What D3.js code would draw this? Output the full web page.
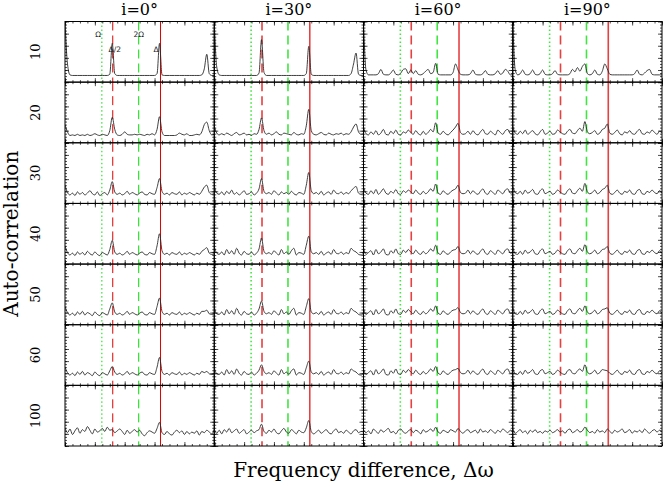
<!DOCTYPE html>
<html>
<head>
<meta charset="utf-8">
<script src="https://cdn.jsdelivr.net/npm/d3@7"></script>
<style>
  body { margin: 0; background: #fff; }
  svg { display: block; }
  .tick line { stroke: #000; stroke-width: 0.7; }
</style>
</head>
<body>
<div id="chart"></div>
<script>
// # DATA
// # ------------------------------
// # ------------------------------
var inclinations = [0, 30, 60, 90];
var row_labels   = ["10", "20", "30", "40", "50", "60", "100"];
var freq_omega   = 0.247;   // Ω
var freq_delta   = 0.64;    // Δ
var n_lags       = 61;      // samples across each panel (lag 0 .. 1)

// ## auto-correlation traces, one array per inclination (0,30,60,90)
var acf_10 = [
  [100,30,12,11,11,11,11,11,11,11, 11,11,11,11,11,11,11,11,13,64, 14,11,11,11,11,11,11,11,11,11, 11,11,11,11,11,11,11,14,64,12, 11,11,11,11,11,11,11,11,11,11, 11,11,11,11,11,12,22,46,14,11, 11],
  [100,25,12,11,11,11,11,11,11,11, 11,11,11,11,11,11,11,11,15,70, 16,11,11,11,11,11,11,11,11,11, 11,11,11,11,11,11,11,14,59,13, 11,11,11,11,11,11,11,11,11,11, 11,11,11,11,11,14,30,48,13,11, 11],
  [100,20,12,12,12,12,14,21,13,12, 12,15,20,13,12,15,21,22,14,20, 14,19,13,12,14,18,21,14,16,31, 13,12,12,12,12,12,16,30,20,13, 12,12,12,14,20,13,12,12,14,19, 13,12,12,14,19,13,15,21,18,12, 12],
  [100,20,12,14,20,13,12,14,20,13, 12,14,20,13,12,12,14,19,13,12, 12,12,12,14,21,17,24,18,26,30, 14,12,14,20,13,12,18,30,22,13, 12,12,12,12,12,12,12,12,12,14, 20,13,12,15,19,21,13,12,12,12, 12]
];
var acf_20 = [
  [30,18,12,13,12,14,12,13,12,14, 12,13,15,13,12,14,13,12,20,42, 22,13,12,14,18,14,13,13,14,13, 14,13,12,14,13,15,13,22,43,18, 12,12,12,12,12,13,16,14,13,15, 12,12,13,14,13,18,30,34,20,13, 14],
  [28,16,13,15,13,16,14,12,15,17, 13,14,16,13,14,12,15,14,22,41, 20,14,16,13,15,18,14,13,16,15, 14,13,17,14,13,15,14,28,55,20, 14,13,15,17,14,13,16,14,13,15, 14,16,13,15,14,18,26,31,18,14, 15],
  [26,15,13,18,14,20,13,16,22,14, 13,19,15,21,14,13,18,16,21,17, 14,20,15,13,19,14,17,22,18,33, 16,14,19,15,13,17,21,26,32,17, 14,15,19,14,20,15,13,18,22,15, 14,19,16,13,21,17,14,20,22,15, 16],
  [27,16,14,19,15,21,14,17,20,15, 13,18,22,14,16,19,14,15,21,18, 15,14,19,22,16,15,20,24,19,35, 18,15,17,20,14,16,22,24,31,16, 14,17,21,15,13,18,16,20,15,14, 19,22,15,14,18,16,21,17,14,19, 16]
];
var acf_30 = [
  [30,18,14,17,13,19,15,18,14,17, 21,16,14,19,13,16,18,14,22,36, 19,15,17,14,16,20,15,18,16,14, 17,19,15,14,18,16,15,26,41,20, 15,17,14,18,16,15,19,14,17,15, 18,16,14,17,15,20,27,30,18,15, 16],
  [29,17,15,19,14,20,16,22,15,18, 14,17,21,15,16,19,14,17,24,41, 20,16,18,15,21,17,14,19,16,18, 15,20,16,14,18,17,15,30,51,21, 16,18,15,20,14,17,19,15,22,17, 16,19,15,18,16,21,25,28,17,15, 17],
  [27,17,15,21,16,23,15,19,24,17, 15,20,17,23,16,15,21,18,22,19, 16,22,17,15,20,16,19,24,20,32, 17,15,21,17,15,19,22,24,30,18, 16,17,22,16,21,17,15,20,24,17, 15,21,18,15,22,19,16,22,24,17, 18],
  [28,18,16,20,15,22,17,19,23,16, 15,21,24,16,18,20,15,17,22,19, 16,15,21,24,17,16,21,25,20,33, 19,16,18,22,16,18,23,25,30,17, 15,18,22,17,15,20,18,22,16,15, 21,23,16,15,20,18,22,18,16,21, 17]
];
var acf_40 = [
  [30,19,15,18,14,20,16,19,15,21, 17,15,20,16,14,19,17,15,24,39, 20,16,18,15,17,21,16,19,17,15, 18,20,16,15,19,17,16,30,50,22, 16,18,15,19,17,16,20,15,18,16, 19,17,15,18,16,21,24,27,18,16, 17],
  [29,18,16,20,15,24,17,22,16,26, 18,15,21,17,16,20,15,18,25,43, 21,17,19,16,22,18,15,24,17,20, 16,22,26,15,19,18,16,31,46,20, 17,19,16,21,15,18,20,16,24,18, 17,20,16,19,17,26,22,20,16,15, 18],
  [27,16,19,22,15,24,17,20,25,16, 15,22,18,25,17,16,23,19,24,20, 17,23,18,16,21,17,20,25,21,31, 18,16,22,18,16,20,23,24,29,19, 17,18,23,17,22,18,16,21,25,18, 16,22,19,16,23,20,17,23,25,18, 19],
  [28,17,16,21,16,23,18,20,24,17, 16,22,25,17,19,21,16,18,23,20, 17,16,22,25,18,17,22,26,21,32, 20,17,19,23,17,19,24,25,29,18, 16,19,23,18,16,21,19,23,17,16, 22,24,17,16,21,19,23,19,17,22, 18]
];
var acf_50 = [
  [30,20,16,19,15,21,17,22,16,20, 18,15,21,17,15,20,18,16,26,36, 21,17,19,16,18,22,17,20,18,16, 19,21,17,16,20,18,17,30,44,22, 17,19,16,20,18,17,21,16,19,17, 20,18,16,19,17,22,22,24,18,17, 18],
  [29,18,17,21,16,25,18,23,17,27, 19,16,22,18,17,21,16,19,26,39, 22,18,20,17,23,19,16,25,18,21, 17,23,27,16,20,19,17,30,43,21, 18,20,17,22,16,19,21,17,25,19, 18,21,17,20,18,27,23,21,17,16, 19],
  [27,17,20,23,16,25,18,21,26,17, 16,23,19,26,18,17,24,20,25,21, 18,24,19,17,22,18,21,26,22,31, 19,17,23,19,17,21,24,25,28,20, 18,19,24,18,23,19,17,22,26,19, 17,23,20,17,24,21,18,24,26,19, 20],
  [28,18,17,22,17,24,19,21,25,18, 17,23,26,18,20,22,17,19,24,21, 18,17,23,26,19,18,23,27,22,31, 21,18,20,24,18,20,25,26,28,19, 17,20,24,19,17,22,20,24,18,17, 23,25,18,17,22,20,24,20,18,23, 19]
];
var acf_60 = [
  [30,21,17,20,16,22,18,23,17,21, 19,16,22,18,16,21,19,17,24,31, 22,18,20,17,19,23,18,21,19,17, 20,22,18,17,21,19,18,30,46,23, 18,20,17,21,19,18,22,17,20,18, 21,19,17,20,18,23,21,23,19,18, 19],
  [29,19,18,22,17,26,19,24,18,27, 20,17,23,19,18,22,17,20,25,34, 23,19,21,18,24,20,17,26,19,22, 18,24,27,17,21,20,18,29,40,22, 19,21,18,23,17,20,22,18,26,20, 19,22,18,21,19,27,24,22,18,17, 20],
  [27,18,21,24,17,26,19,22,27,18, 17,24,20,27,19,18,25,21,26,22, 19,25,20,18,23,19,22,27,23,31, 20,18,24,20,18,22,25,26,28,21, 19,20,25,19,24,20,18,23,27,20, 18,24,21,18,25,22,19,25,27,20, 21],
  [28,19,18,23,18,25,20,22,26,19, 18,24,26,19,21,23,18,20,25,22, 19,18,24,26,20,19,24,27,23,34, 22,19,21,25,19,21,26,25,24,20, 18,21,25,20,18,23,21,25,19,18, 24,26,19,18,23,21,25,21,19,24, 20]
];
var acf_100 = [
  [30,22,28,19,25,30,21,27,24,32, 26,20,28,23,25,29,24,31,26,27, 22,25,28,24,19,26,21,24,27,23, 26,20,17,22,25,23,21,29,39,22, 19,24,20,18,23,26,22,25,19,24, 20,23,21,25,18,24,22,26,23,20, 27],
  [28,21,26,20,27,23,29,22,25,28, 21,24,27,20,23,26,22,25,27,36, 24,21,26,23,28,22,20,25,29,23, 21,27,24,20,26,23,22,30,42,24, 20,23,26,21,24,27,22,20,25,28, 22,24,21,26,23,20,25,27,22,24, 23],
  [27,22,25,20,28,24,21,27,23,26, 29,22,24,20,26,28,23,21,25,27, 22,26,24,20,27,23,25,28,24,31, 23,21,26,24,22,27,25,23,29,24, 21,25,27,22,24,26,21,28,23,25, 22,27,24,21,26,23,28,25,22,26, 24],
  [28,21,24,27,22,25,20,26,23,27, 22,24,21,25,23,26,22,24,27,23, 25,21,26,28,22,24,27,23,25,31, 26,22,24,21,27,23,25,22,28,24, 21,26,23,25,28,22,24,27,21,25, 23,26,22,28,24,21,25,27,23,26, 24]
];
var acf_rows = [acf_10, acf_20, acf_30, acf_40, acf_50, acf_60, acf_100];

// # LAYOUT
// # ------------------------------
// # ------------------------------
var width    = 664,
    height   = 487,
    plot_l   = 65,
    plot_r   = 662,
    plot_t   = 21.5,
    plot_b   = 446;

var panel_w = (plot_r - plot_l) / inclinations.length;
var panel_h = (plot_b - plot_t) / row_labels.length;

var lags = d3.range(n_lags).map(function(i) { return i / (n_lags - 1) });

// ## marker lines: Ω dotted green, Δ/2 dashed red, 2Ω dashed green, Δ solid red
var markers = [
  {name: "Ω",   f: freq_omega,     color: "#00dd00", dash: "1.5,2.5", lab_dx: -1, lab_y: 37, anchor: "end"},
  {name: "Δ/2", f: freq_delta / 2, color: "#dd0000", dash: "9,5",     lab_dx: 2,  lab_y: 52, anchor: "middle"},
  {name: "2Ω",  f: 2 * freq_omega, color: "#00dd00", dash: "9,5",     lab_dx: 0,  lab_y: 37, anchor: "middle"},
  {name: "Δ",   f: freq_delta,     color: "#dd0000", dash: null,      lab_dx: -2, lab_y: 52, anchor: "end"}
];

var svg = d3.select("#chart").append("svg")
    .attr("width", width)
    .attr("height", height)
    .style("font-family", "'DejaVu Serif', serif");

var defs = svg.append("defs");

// # PANELS
// # ------------------------------
// # ------------------------------
for (var r = 0; r < row_labels.length; r++) {
  for (var c = 0; c < inclinations.length; c++) {

    var x0 = plot_l + c * panel_w,
        y0 = plot_t + r * panel_h;

    var x = d3.scaleLinear().domain([0, 1]).range([x0, x0 + panel_w]);
    var y = d3.scaleLinear().domain([0, 100]).range([y0 + panel_h, y0]);

    var clip_id = "clip-" + r + "-" + c;
    defs.append("clipPath").attr("id", clip_id)
      .append("rect")
        .attr("x", x0).attr("y", y0)
        .attr("width", panel_w).attr("height", panel_h);

    var g = svg.append("g").attr("class", "panel");

    // ## marker lines (thin in the first column, wider and softer elsewhere)
    markers.forEach(function(m) {
      g.append("line")
        .attr("x1", x(m.f)).attr("x2", x(m.f))
        .attr("y1", y0).attr("y2", y0 + panel_h)
        .attr("stroke", m.color)
        .attr("stroke-width", c == 0 ? 1 : 1.6)
        .attr("stroke-opacity", c == 0 ? 1 : 0.75)
        .attr("stroke-dasharray", m.dash);
    });

    // ## trace
    var line = d3.line()
        .x(function(d, i) { return x(lags[i]) })
        .y(function(d) { return y(d) })
        .curve(d3.curveMonotoneX);

    g.append("path")
      .datum(acf_rows[r][c])
      .attr("clip-path", "url(#" + clip_id + ")")
      .attr("fill", "none")
      .attr("stroke", "#2a2a2a")
      .attr("stroke-width", 0.9)
      .attr("d", line);

    // ## inward ticks on all sides
    var x_minor = d3.range(0, 1.0001, 0.05),
        x_major = d3.range(0, 1.0001, 0.2),
        y_minor = d3.range(0, 100.01, 5),
        y_major = d3.range(0, 100.01, 20);

    var axes = [
      [d3.axisBottom, x, "translate(0," + (y0 + panel_h) + ")", x_minor, x_major],
      [d3.axisTop,    x, "translate(0," + y0 + ")",             x_minor, x_major],
      [d3.axisLeft,   y, "translate(" + x0 + ",0)",             y_minor, y_major],
      [d3.axisRight,  y, "translate(" + (x0 + panel_w) + ",0)", y_minor, y_major]
    ];
    axes.forEach(function(a) {
      g.append("g").attr("transform", a[2])
        .call(a[0](a[1]).tickValues(a[3]).tickSize(-2).tickFormat(""))
        .call(function(s) { s.select(".domain").remove() });
      g.append("g").attr("transform", a[2])
        .call(a[0](a[1]).tickValues(a[4]).tickSize(-4).tickFormat(""))
        .call(function(s) { s.select(".domain").remove() });
    });

    g.append("rect")
      .attr("x", x0).attr("y", y0)
      .attr("width", panel_w).attr("height", panel_h)
      .attr("fill", "none")
      .attr("stroke", "#000")
      .attr("stroke-width", 1);

    // ## marker labels in the first panel only
    if (r == 0 && c == 0) {
      markers.forEach(function(m) {
        g.append("text")
          .attr("x", x(m.f) + m.lab_dx)
          .attr("y", m.lab_y)
          .attr("text-anchor", m.anchor)
          .style("font-family", "'DejaVu Sans', sans-serif")
          .style("font-size", "7.5px")
          .attr("fill", "#222")
          .text(m.name);
      });
    }
  }
}

// # TITLES
// # ------------------------------
// # ------------------------------
inclinations.forEach(function(inc, c) {
  svg.append("text")
    .attr("x", plot_l + (c + 0.5) * panel_w)
    .attr("y", 15)
    .attr("text-anchor", "middle")
    .style("font-size", "16px")
    .text("i=" + inc + "°");
});

row_labels.forEach(function(lab, r) {
  var cy = plot_t + (r + 0.5) * panel_h;
  svg.append("text")
    .attr("transform", "translate(40," + cy + ") rotate(-90)")
    .attr("text-anchor", "middle")
    .style("font-size", "13px")
    .text(lab);
});

svg.append("text")
  .attr("transform", "translate(18," + ((plot_t + plot_b) / 2) + ") rotate(-90)")
  .attr("text-anchor", "middle")
  .style("font-size", "20px")
  .text("Auto-correlation");

svg.append("text")
  .attr("x", (plot_l + plot_r) / 2)
  .attr("y", 477)
  .attr("text-anchor", "middle")
  .style("font-size", "20px")
  .text("Frequency difference, Δω");
</script>
</body>
</html>
